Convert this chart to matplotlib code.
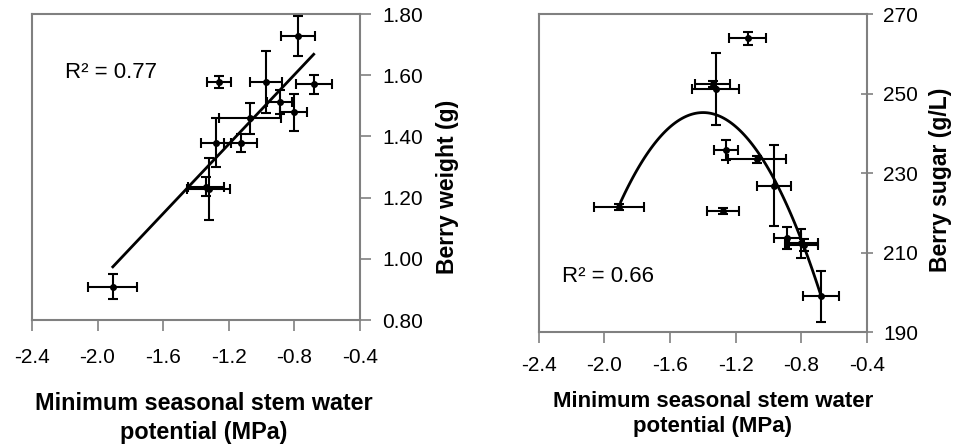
import numpy as np
import matplotlib
matplotlib.use("Agg")
import matplotlib.pyplot as plt

plt.rcParams['font.family'] = ['Liberation Sans', 'DejaVu Sans']

# Left panel: berry weight vs minimum stem water potential
w_x = [-1.907, -1.262, -0.777, -0.973, -0.682, -0.890, -0.804, -1.071, -1.278, -1.126, -1.339, -1.323]
w_xerr = [0.15, 0.073, 0.104, 0.10, 0.11, 0.076, 0.084, 0.19, 0.09, 0.10, 0.11, 0.13]
w_y = [0.909, 1.577, 1.729, 1.578, 1.570, 1.513, 1.479, 1.459, 1.379, 1.379, 1.236, 1.228]
w_yerr = [0.04, 0.02, 0.066, 0.10, 0.03, 0.04, 0.06, 0.05, 0.08, 0.03, 0.03, 0.10]
w_fit = (0.567, 2.055)          # slope, intercept
w_fit_range = (-1.907, -0.682)

# Right panel: berry sugar vs minimum stem water potential
s_x = [-1.126, -1.340, -1.322, -1.258, -1.069, -0.967, -1.908, -1.276, -0.885, -0.798, -0.784, -0.678]
s_xerr = [0.114, 0.107, 0.145, 0.071, 0.178, 0.104, 0.153, 0.10, 0.083, 0.10, 0.09, 0.11]
s_y = [263.9, 252.4, 251.1, 235.8, 233.4, 226.8, 221.5, 220.5, 213.7, 212.3, 211.9, 199.0]
s_yerr = [1.6, 0.8, 9.1, 2.5, 0.8, 10.2, 0.8, 0.8, 2.8, 3.6, 1.5, 6.4]
s_fit = (-89.1, -249.1, 71.1)   # quadratic coefficients
s_fit_range = (-1.90, -0.678)

x_ticks = [-2.4, -2.0, -1.6, -1.2, -0.8, -0.4]
w_ticks = [0.80, 1.00, 1.20, 1.40, 1.60, 1.80]
s_ticks = [190, 210, 230, 250, 270]

xlabel = "Minimum seasonal stem water\npotential (MPa)"
spine_col = '#808080'

fig = plt.figure(figsize=(9.54, 4.46), dpi=100)
ax1 = fig.add_axes([0.0335, 0.2825, 0.3438, 0.6861])
ax2 = fig.add_axes([0.5647, 0.2556, 0.3438, 0.7130])


def style(ax, yticks, ylim, yfmt, xpad, ydir):
    ax.set_xlim(-2.4, -0.4)
    ax.set_ylim(*ylim)
    ax.set_xticks(x_ticks)
    ax.set_xticklabels([f"{t:.1f}" for t in x_ticks])
    ax.set_yticks(yticks)
    ax.set_yticklabels([yfmt.format(t) for t in yticks])
    ax.yaxis.tick_right()
    ax.yaxis.set_label_position('right')
    for sp in ax.spines.values():
        sp.set_color(spine_col)
        sp.set_linewidth(1.5)
    ax.tick_params(axis='x', direction='out', length=8, width=1.2, color=spine_col,
                   labelsize=15, pad=xpad)
    ax.tick_params(axis='y', direction=ydir, length=8, width=1.2, color=spine_col,
                   labelsize=15, pad=8)


style(ax1, w_ticks, (0.80, 1.80), "{:.2f}", 12, 'out')
style(ax2, s_ticks, (190, 270), "{:.0f}", 9, 'inout')

eb = dict(fmt='o', color='black', markersize=4, elinewidth=1.5, capsize=3.5,
          capthick=1.5, zorder=3)
ax1.errorbar(w_x, w_y, xerr=w_xerr, yerr=w_yerr, **eb)
ax2.errorbar(s_x, s_y, xerr=s_xerr, yerr=s_yerr, **eb)

xx = np.linspace(*w_fit_range, 50)
ax1.plot(xx, np.polyval(w_fit, xx), color='black', lw=2, zorder=4)
xx = np.linspace(*s_fit_range, 100)
ax2.plot(xx, np.polyval(s_fit, xx), color='black', lw=2, zorder=4)

ax1.text(0.10, 0.81, "R² = 0.77", transform=ax1.transAxes, fontsize=16, va='center')
ax2.text(0.07, 0.173, "R² = 0.66", transform=ax2.transAxes, fontsize=16, va='center')

for ax, lab, ylab_xy, xlab_xy, xfs in [
        (ax1, "Berry weight (g)", (1.268, 0.436), (0.524, -0.32), 16.8),
        (ax2, "Berry sugar (g/L)", (1.2235, 0.478), (0.531, -0.258), 16)]:
    ax.set_ylabel(lab, fontsize=16.5, fontweight='bold')
    ax.yaxis.set_label_coords(*ylab_xy)
    ax.yaxis.label.set_va('center')
    ax.set_xlabel(xlabel, fontsize=xfs, fontweight='bold', linespacing=1.3)
    ax.xaxis.set_label_coords(*xlab_xy)
    ax.xaxis.label.set_va('center')

fig.savefig("out.png", dpi=100)
